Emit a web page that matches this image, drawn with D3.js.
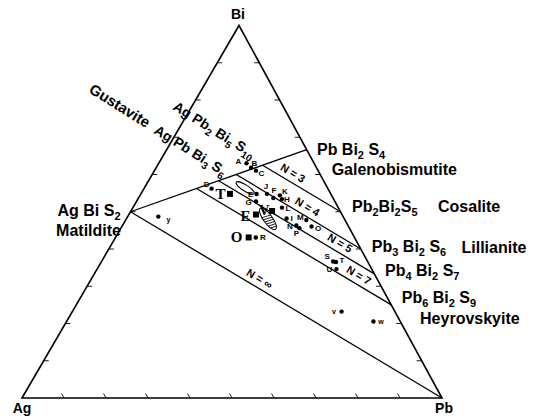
<!DOCTYPE html>
<html><head><meta charset="utf-8">
<script src="https://cdn.jsdelivr.net/npm/d3@7"></script>
<style>body{margin:0;background:#fff}svg{display:block}</style>
</head><body><svg id="c" width="534" height="418"></svg>
<script>
// ---------------- data ----------------
const vertexNames = ["Ag", "Bi", "Pb"];
const tickFractions = [0.1, 0.2, 0.3, 0.4, 0.5, 0.6, 0.7, 0.8, 0.9];

// end-member phases (atoms per formula: Ag, Bi, Pb)
const phaseFormulas = ["Pb Bi2 S4", "Pb2Bi2S5", "Pb3 Bi2 S6", "Pb4 Bi2 S7", "Pb6 Bi2 S9", "Ag Bi S2"];
const phaseNames = ["Galenobismutite", "Cosalite", "Lillianite", "", "Heyrovskyite", "Matildite"];
const phaseAg = [0, 0, 0, 0, 0, 1];
const phaseBi = [2, 2, 2, 2, 2, 1];
const phasePb = [1, 2, 3, 4, 6, 0];

// lillianite homologous series substitution lines (start on AgBiS2-PbBi2S4 join, end on Bi-Pb side)
const seriesLabels = ["N = 3", "N = 4", "N = 5", "N = 7", "N = \u221E"];
const seriesStartAg = [0.5, 1, 1.5, 2.5, 1];
const seriesStartBi = [2.5, 3, 3.5, 4.5, 1];
const seriesStartPb = [1, 1, 1, 1, 0];
const seriesEndAg = [0, 0, 0, 0, 0];
const seriesEndBi = [2, 2, 2, 2, 0];
const seriesEndPb = [2, 3, 4, 6, 1];

// AgBiS2 - PbBi2S4 join
const joinAg = [1, 0];
const joinBi = [1, 2];
const joinPb = [0, 1];

// intermediate phases named on the diagonal
const diagNames = ["", "Gustavite"];
const diagFormulas = ["Ag Pb2 Bi5 S10", "Ag Pb Bi3 S6"];

// analysed compositions (atomic fractions Ag, Bi, Pb)
const pointLabels = ["A","B","C","D","E","F","G","H","I","J","K","L","M","N","O","P","R","S","T","U","V","W","Y"];
const pointAg = [0.161,0.156,0.148,0.277,0.177,0.142,0.188,0.123,0.137,0.152,0.123,0.134,0.092,0.123,0.088,0.119,0.235,0.082,0.076,0.084,0.127,0.064,0.440];
const pointBi = [0.631,0.619,0.611,0.562,0.548,0.537,0.528,0.534,0.482,0.548,0.544,0.511,0.478,0.463,0.460,0.456,0.431,0.366,0.365,0.346,0.232,0.205,0.487];
const pointPb = [0.209,0.226,0.242,0.161,0.276,0.321,0.285,0.343,0.381,0.300,0.333,0.355,0.430,0.414,0.451,0.425,0.334,0.551,0.559,0.570,0.641,0.730,0.073];

// literature compositions (squares)
const squareLabels = ["T", "E", "V", "O"];
const squareAg = [0.240, 0.205, 0.162, 0.252];
const squareBi = [0.548, 0.493, 0.502, 0.431];
const squarePb = [0.212, 0.303, 0.336, 0.317];

// composition fields (outlined / hatched)
const fieldAg = [0.196, 0.182];
const fieldBi = [0.564, 0.481];
const fieldPb = [0.240, 0.337];

// ---------------- layout ----------------
const svg = d3.select("#c");
const skew = (239 - 22) / 420;
const xS = d3.scaleLinear().domain([0, 1]).range([22, 442]);
const yS = d3.scaleLinear().domain([0, 1]).range([398, 25.5]);
function proj(ag, bi, pb) {
  const s = ag + bi + pb; bi /= s; pb /= s;
  return [xS(pb + bi * skew), yS(bi)];
}
const SANS = "'Liberation Sans', Arial, Helvetica, sans-serif";
const SERIF = "'Liberation Serif', 'Times New Roman', serif";

function formula(sel, str, size, subSize) {
  const parts = str.split(/(\d+)/).filter(p => p.length);
  let down = false;
  parts.forEach(p => {
    const isSub = /^\d+$/.test(p);
    const t = sel.append("tspan").text(p).attr("font-size", isSub ? subSize : size);
    if (isSub && !down) { t.attr("dy", 4); down = true; }
    else if (!isSub && down) { t.attr("dy", -4); down = false; }
  });
}

const g = svg.append("g");

// triangle
const corners = [proj(1,0,0), proj(0,1,0), proj(0,0,1)];
g.append("path").attr("d", d3.line()(corners) + "Z")
  .attr("fill", "none").attr("stroke", "#000").attr("stroke-width", 1.6).attr("stroke-linejoin", "miter");

// ticks
const d = 0.012;
const tickLines = [];
tickFractions.forEach(f => {
  tickLines.push([proj(1 - f, f, 0), proj(1 - f - d, f, d)]);   // Ag-Bi edge
  tickLines.push([proj(0, f, 1 - f), proj(d, f, 1 - f - d)]);   // Bi-Pb edge
  tickLines.push([proj(1 - f, 0, f), proj(1 - f, d, f - d)]);   // Ag-Pb edge
});
g.selectAll(".tick").data(tickLines).join("path").attr("class", "tick")
  .attr("d", d3.line()).attr("stroke", "#000").attr("stroke-width", 0.9).attr("fill", "none");

// join line
g.append("path").attr("d", d3.line()([proj(joinAg[0], joinBi[0], joinPb[0]), proj(joinAg[1], joinBi[1], joinPb[1])]))
  .attr("stroke", "#000").attr("stroke-width", 1.3).attr("fill", "none");

// series lines
const seriesIdx = d3.range(seriesLabels.length);
g.selectAll(".ser").data(seriesIdx).join("path").attr("class", "ser")
  .attr("d", i => d3.line()([proj(seriesStartAg[i], seriesStartBi[i], seriesStartPb[i]), proj(seriesEndAg[i], seriesEndBi[i], seriesEndPb[i])]))
  .attr("stroke", "#000").attr("stroke-width", 1.3).attr("fill", "none");

// series labels
const serT = [0.33, 0.535, 0.75, 0.81, 0.40];
seriesIdx.forEach(i => {
  const a = proj(seriesStartAg[i], seriesStartBi[i], seriesStartPb[i]);
  const b = proj(seriesEndAg[i], seriesEndBi[i], seriesEndPb[i]);
  const ang = Math.atan2(b[1] - a[1], b[0] - a[0]);
  const px = a[0] + (b[0] - a[0]) * serT[i] + 9 * Math.sin(ang);
  const py = a[1] + (b[1] - a[1]) * serT[i] - 9 * Math.cos(ang);
  g.append("text").attr("transform", `translate(${px},${py}) rotate(${ang * 180 / Math.PI})`)
    .attr("text-anchor", "middle").attr("dominant-baseline", "central")
    .attr("font-family", SANS).attr("font-weight", "bold").attr("font-size", 11)
    .text(seriesLabels[i]);
});

// fields
const fieldSpec = [{rx: 10.5, ry: 3, rot: 32}, {rx: 13, ry: 4.5, rot: 54}];
const defs = svg.append("defs");
fieldAg.forEach((ag, i) => {
  const c = proj(ag, fieldBi[i], fieldPb[i]);
  const s = fieldSpec[i];
  const fg = g.append("g").attr("transform", `translate(${c[0]},${c[1]}) rotate(${s.rot})`);
  if (i === 1) {
    defs.append("clipPath").attr("id", "fc" + i).append("ellipse").attr("rx", s.rx).attr("ry", s.ry);
    const hatch = fg.append("g").attr("clip-path", `url(#fc${i})`);
    d3.range(-1, 14, 2.6).forEach(k => {
      hatch.append("line").attr("x1", k).attr("y1", -6).attr("x2", k - 4).attr("y2", 6)
        .attr("stroke", "#000").attr("stroke-width", 0.8);
    });
  }
  fg.append("ellipse").attr("rx", s.rx).attr("ry", s.ry)
    .attr("fill", "none").attr("stroke", "#000").attr("stroke-width", 1);
});

// squares
const sqIdx = d3.range(squareLabels.length);
const sqDx = [-9.5, -10.5, -8, -12], sqDy = [0, 1.5, -1, 0];
sqIdx.forEach(i => {
  const p = proj(squareAg[i], squareBi[i], squarePb[i]);
  g.append("rect").attr("x", p[0] - 3).attr("y", p[1] - 3).attr("width", 6).attr("height", 6).attr("fill", "#000");
  g.append("text").attr("x", p[0] + sqDx[i]).attr("y", p[1] + sqDy[i])
    .attr("text-anchor", "middle").attr("dominant-baseline", "central")
    .attr("font-family", SERIF).attr("font-weight", "bold").attr("font-size", 15).text(squareLabels[i]);
});

// points
const ptOff = {A:[-8,-2],B:[3.5,-4],C:[5.5,2.5],D:[-5,-4],E:[-6,0],F:[0.5,-7],G:[-7.5,1],H:[5,0],I:[5,0],J:[-1,-7.5],K:[5,-4],L:[6,0.5],M:[-6,-2.5],N:[-6.5,1],O:[6.5,2],P:[-3,5],R:[7,0.5],S:[-6,-5],T:[6,-1.5],U:[-7,0.5],V:[-7.5,-0.5],W:[7.5,0],Y:[10,2.5]};
pointLabels.forEach((lab, i) => {
  const p = proj(pointAg[i], pointBi[i], pointPb[i]);
  g.append("circle").attr("cx", p[0]).attr("cy", p[1]).attr("r", 2.2).attr("fill", "#000");
  const o = ptOff[lab];
  g.append("text").attr("x", p[0] + o[0]).attr("y", p[1] + o[1])
    .attr("text-anchor", "middle").attr("dominant-baseline", "central")
    .attr("font-family", SANS).attr("font-weight", "bold").attr("font-size", lab === "V" || lab === "W" || lab === "Y" ? 7 : 8)
    .text(lab === "V" ? "v" : lab === "W" ? "w" : lab === "Y" ? "y" : lab);
});

// phase labels
const phFx = [10.3, 11.5, 11, 10.7, 10.5, -10], phFy = [5.5, 0, 3, 2.2, -1.5, 4];
const phNx = [25, 97.5, 100.7, 0, 28.8, -9.5], phNy = [25, 0, 4, 0, 19.5, 24];
phaseFormulas.forEach((f, i) => {
  const p = proj(phaseAg[i], phaseBi[i], phasePb[i]);
  const anchor = i === 5 ? "end" : "start";
  const t = g.append("text").attr("x", p[0] + phFx[i]).attr("y", p[1] + phFy[i])
    .attr("text-anchor", anchor).attr("font-family", SANS).attr("font-weight", "bold");
  formula(t, f, 16, 11);
  if (phaseNames[i]) {
    g.append("text").attr("x", p[0] + phNx[i]).attr("y", p[1] + phNy[i])
      .attr("text-anchor", anchor).attr("font-family", SANS).attr("font-weight", "bold").attr("font-size", 16)
      .text(phaseNames[i]);
  }
});

// diagonal labels
const diagPos = [[172, 109], [88, 92]];
diagFormulas.forEach((f, i) => {
  const t = g.append("text").attr("transform", `translate(${diagPos[i][0]},${diagPos[i][1]}) rotate(32)`)
    .attr("font-family", SANS).attr("font-weight", "bold").style("white-space", "pre");
  if (diagNames[i]) t.append("tspan").attr("font-size", 15).text(diagNames[i] + "  ");
  formula(t, f, 14, 10);
});

// vertex labels
const vPos = [[22, 413, "middle"], [238, 19, "middle"], [444, 413, "middle"]];
vertexNames.forEach((v, i) => {
  g.append("text").attr("x", vPos[i][0]).attr("y", vPos[i][1]).attr("text-anchor", vPos[i][2])
    .attr("font-family", SANS).attr("font-weight", "bold").attr("font-size", 14).text(v);
});
</script></body></html>
